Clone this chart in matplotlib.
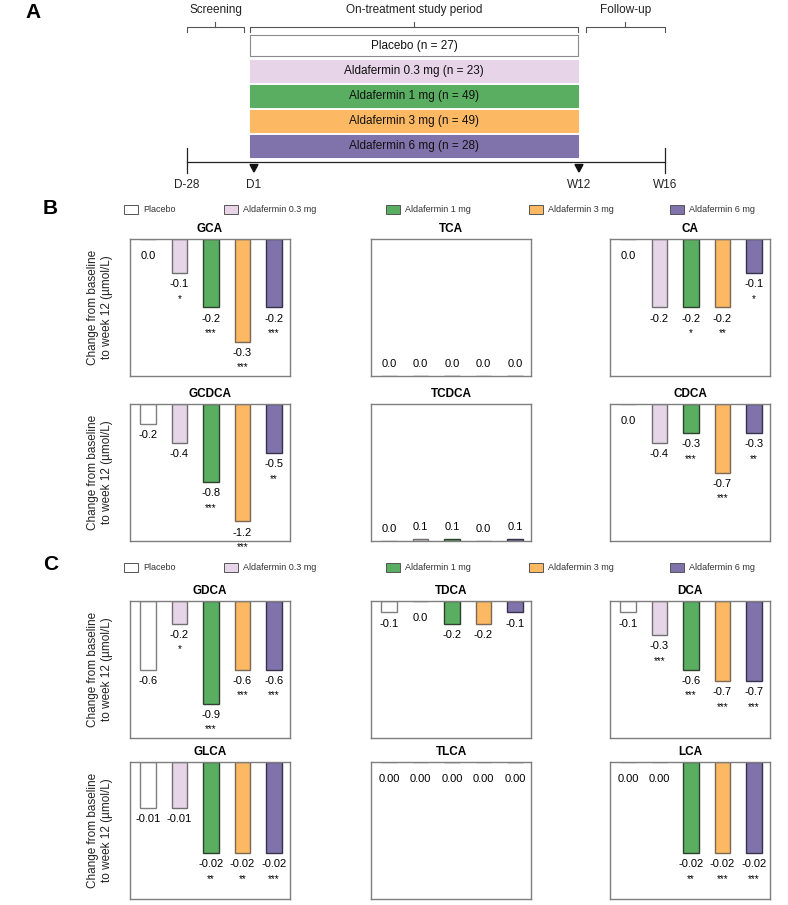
import matplotlib
matplotlib.use("Agg")
import matplotlib.pyplot as plt
from matplotlib.patches import Rectangle, Polygon

plt.rcParams['font.family'] = ['Liberation Sans', 'DejaVu Sans']

W, H = 788, 905

# --- data ---
arms = ['Placebo', 'Aldafermin 0.3 mg', 'Aldafermin 1 mg', 'Aldafermin 3 mg', 'Aldafermin 6 mg']
arm_n = [27, 23, 49, 49, 28]
arm_colors = ['#ffffff', '#e7d4e8', '#5aae61', '#fdb863', '#8073ac']
arm_edges = ['#7f7f7f', '#6f6f6f', '#2f3f30', '#7a6a55', '#35324a']

timeline_labels = ['D-28', 'D1', 'W12', 'W16']
periods = ['Screening', 'On-treatment study period', 'Follow-up']

# panel B (primary bile acids)
acids_b = ['GCA', 'TCA', 'CA', 'GCDCA', 'TCDCA', 'CDCA']
vals_b = [
    [0.0, -0.10, -0.20, -0.30, -0.20],
    [0.0, 0.0, 0.0, 0.0, 0.0],
    [0.0, -0.20, -0.20, -0.20, -0.10],
    [-0.20, -0.40, -0.80, -1.20, -0.50],
    [0.0, 0.025, 0.025, 0.0, 0.025],
    [0.0, -0.40, -0.30, -0.70, -0.30],
]
text_b = [
    ['0.0', '-0.1', '-0.2', '-0.3', '-0.2'],
    ['0.0', '0.0', '0.0', '0.0', '0.0'],
    ['0.0', '-0.2', '-0.2', '-0.2', '-0.1'],
    ['-0.2', '-0.4', '-0.8', '-1.2', '-0.5'],
    ['0.0', '0.1', '0.1', '0.0', '0.1'],
    ['0.0', '-0.4', '-0.3', '-0.7', '-0.3'],
]
stars_b = [
    ['', '*', '***', '***', '***'],
    ['', '', '', '', ''],
    ['', '', '*', '**', '*'],
    ['', '', '***', '***', '**'],
    ['', '', '', '', ''],
    ['', '', '***', '***', '**'],
]
ylims_b = [(-0.4, 0), (0, 0.4), (-0.4, 0), (-1.4, 0), (0, 1.4), (-1.4, 0)]

# panel C (secondary bile acids)
acids_c = ['GDCA', 'TDCA', 'DCA', 'GLCA', 'TLCA', 'LCA']
vals_c = [
    [-0.60, -0.20, -0.90, -0.60, -0.60],
    [-0.10, 0.0, -0.20, -0.20, -0.10],
    [-0.10, -0.30, -0.60, -0.70, -0.70],
    [-0.010, -0.010, -0.020, -0.020, -0.020],
    [0.0, 0.0, 0.0, 0.0, 0.0],
    [0.0, 0.0, -0.020, -0.020, -0.020],
]
text_c = [
    ['-0.6', '-0.2', '-0.9', '-0.6', '-0.6'],
    ['-0.1', '0.0', '-0.2', '-0.2', '-0.1'],
    ['-0.1', '-0.3', '-0.6', '-0.7', '-0.7'],
    ['-0.01', '-0.01', '-0.02', '-0.02', '-0.02'],
    ['0.00', '0.00', '0.00', '0.00', '0.00'],
    ['0.00', '0.00', '-0.02', '-0.02', '-0.02'],
]
stars_c = [
    ['', '*', '***', '***', '***'],
    ['', '', '', '', ''],
    ['', '***', '***', '***', '***'],
    ['', '', '**', '**', '***'],
    ['', '', '', '', ''],
    ['', '', '**', '***', '***'],
]
ylims_c = [(-1.2, 0), (-1.2, 0), (-1.2, 0), (-0.03, 0), (-0.03, 0), (-0.03, 0)]

ylabel = 'Change from baseline\nto week 12 (µmol/L)'


def rect(x, y, w, h):
    return [x / W, 1 - (y + h) / H, w / W, h / H]


fig = plt.figure(figsize=(W / 100, H / 100), dpi=100)

# overlay in pixel coordinates for schematic, letters, legends
ov = fig.add_axes([0, 0, 1, 1])
ov.set_xlim(0, W)
ov.set_ylim(H, 0)
ov.axis('off')

# ---- panel A: study design ----
ov.text(25, 13, 'A', fontsize=15, fontweight='bold', ha='left', va='center')
brackets = [(187, 244), (250, 578), (586, 665)]
for name, (x1, x2) in zip(periods, brackets):
    xc = (x1 + x2) / 2
    ov.text(xc, 10, name, fontsize=8.5, ha='center', va='center', color='#222222')
    ov.plot([x1, x1, x2, x2], [32, 27.5, 27.5, 32], color='#555555', lw=0.8)
    ov.plot([xc, xc], [27.5, 22], color='#555555', lw=0.8)

for i, (arm, n) in enumerate(zip(arms, arm_n)):
    top = 35 + i * 25.1
    ec = '#8a8a8a' if i == 0 else arm_colors[i]
    ov.add_patch(Rectangle((250, top), 328, 21.5, facecolor=arm_colors[i],
                           edgecolor=ec, lw=0.8))
    ov.text(414, top + 10.8, f'{arm} (n = {n})', fontsize=8.5, ha='center',
            va='center', color='#111111')

tl_x = [187, 254, 579, 665]
ov.plot([tl_x[0], tl_x[-1]], [162.3, 162.3], color='#222222', lw=0.9)
for x in (tl_x[0], tl_x[-1]):
    ov.plot([x, x], [148, 173], color='#222222', lw=0.9)
for x in (tl_x[1], tl_x[2]):
    ov.add_patch(Polygon([[x - 4, 164.5], [x + 4, 164.5], [x, 172]],
                         closed=True, color='#111111'))
for lab, x in zip(timeline_labels, tl_x):
    ov.text(x, 185.5, lab, fontsize=8.5, ha='center', va='center', color='#222222')


# ---- legends ----
def draw_legend(yc):
    xs = [124, 224, 386, 529, 670]
    for i, x in enumerate(xs):
        ov.add_patch(Rectangle((x, yc - 4.5), 14, 9, facecolor=arm_colors[i],
                               edgecolor='#555555', lw=0.7))
        ov.text(x + 19, yc, arms[i], fontsize=6.5, ha='left', va='center',
                color='#333333')


ov.text(43, 208, 'B', fontsize=15, fontweight='bold', ha='left', va='center')
draw_legend(209)
ov.text(43, 564, 'C', fontsize=15, fontweight='bold', ha='left', va='center')
draw_legend(567)

# ---- bar panels ----
col_x = [130, 371, 610]
row_y = [239, 404, 601, 762]
ax_w, ax_h = 160, 137


def bar_panel(x, y, name, vals, texts, stars, ylim):
    ax = fig.add_axes(rect(x, y, ax_w, ax_h))
    pos = range(len(vals))
    ax.bar(pos, vals, width=0.49, color=arm_colors, edgecolor=arm_edges, lw=1.0)
    ax.set_xlim(-0.57, 4.51)
    ax.set_ylim(*ylim)
    ax.set_xticks([])
    ax.set_yticks([])
    for s in ax.spines.values():
        s.set_color('#7f7f7f')
        s.set_linewidth(1.0)
    ax.set_title(name, fontsize=8.5, fontweight='bold', pad=5)
    up = ylim[0] >= 0
    for i, v in enumerate(vals):
        if up:
            ax.annotate(texts[i], (i, v), xytext=(0, 8.5), textcoords='offset points',
                        ha='center', va='center', fontsize=8, annotation_clip=False)
        else:
            off = -12.5 if v == 0 else -8
            ax.annotate(texts[i], (i, v), xytext=(0, off), textcoords='offset points',
                        ha='center', va='center', fontsize=8, annotation_clip=False)
            if stars[i]:
                ax.annotate(stars[i], (i, v), xytext=(0, off - 10.5),
                            textcoords='offset points', ha='center', va='center',
                            fontsize=7, annotation_clip=False)
    return ax


for k in range(6):
    r, c = divmod(k, 3)
    bar_panel(col_x[c], row_y[r], acids_b[k], vals_b[k], text_b[k], stars_b[k], ylims_b[k])
    bar_panel(col_x[c], row_y[r + 2], acids_c[k], vals_c[k], text_c[k], stars_c[k], ylims_c[k])

for yt in row_y:
    fig.text(100 / W, 1 - (yt + ax_h / 2) / H, ylabel, rotation=90, fontsize=8.5,
             ha='center', va='center', multialignment='center', color='#222222')

fig.savefig('out.png', dpi=100)
